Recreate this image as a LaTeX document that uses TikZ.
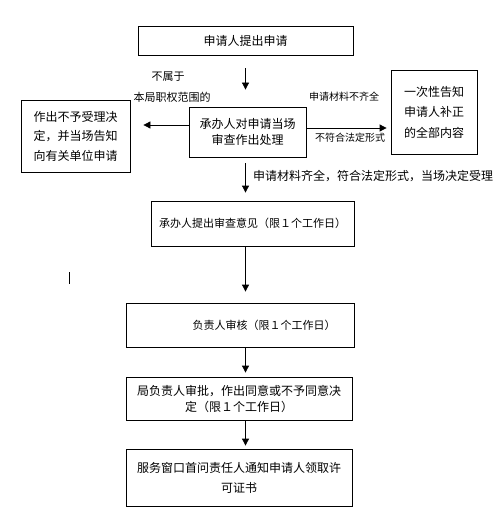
\documentclass[tikz,border=0pt]{standalone}
\usepackage{fontspec}
\setmainfont{Noto Sans CJK SC}
\usepackage{tikz}
\usetikzlibrary{arrows.meta}

\tikzset{
  box/.style={draw,rectangle,line width=0.8pt,inner sep=0pt,align=center,
    font=\fontsize{12}{16}\selectfont},
  arr/.style={line width=0.8pt,-{Triangle[length=7pt,width=7pt]}},
  small/.style={inner sep=0pt,font=\fontsize{10}{12}\selectfont}
}

\begin{document}
\begin{tikzpicture}[x=1pt,y=-1pt]
\useasboundingbox (0,0) rectangle (497,532);

\node [box,minimum width=215pt,minimum height=29pt] (apply) at(245.5,40.5){申请人提出申请};
\node [box,minimum width=117pt,minimum height=50pt] (check) at(247.5,132){承办人对申请当场\\审查作出处理};
\node [box,minimum width=109pt,minimum height=72pt,font=\fontsize{12}{19.5}\selectfont] (deny) at(75.5,136){作出不予受理决\\定，并当场告知\\向有关单位申请};
\node [box,minimum width=86pt,minimum height=84pt,font=\fontsize{12}{20.5}\selectfont] (notify) at(434,112){一次性告知\\申请人补正\\的全部内容};

\node [box,minimum width=203pt,minimum height=45pt,font=\fontsize{11}{14}\selectfont] (opinion) at(252.5,223.5){承办人提出审查意见（限１个工作日）};
\node [box,minimum width=228pt,minimum height=44pt,font=\fontsize{11}{14}\selectfont] (review) at(240,325){\hspace*{48pt}负责人审核（限１个工作日）};
\node [box,minimum width=226pt,minimum height=43pt] (approve) at(239,398.5){局负责人审批，作出同意或不予同意决\\定（限１个工作日）};
\node [box,minimum width=226pt,minimum height=57pt,font=\fontsize{12}{20}\selectfont] (issue) at(239,477.5){服务窗口首问责任人通知申请人领取许\\可证书};

% labels
\node [small,font=\fontsize{11}{13}\selectfont] (notours) at(168,77){不属于};
\node [small,font=\fontsize{11}{13}\selectfont] (scope) at(172,97){本局职权范围的};
\node [small] (incomplete) at(344,97){申请材料不齐全};
\node [small] (noform) at(350,138){不符合法定形式};
\node [small,anchor=west,font=\fontsize{12}{14}\selectfont] (accept) at(253,176){申请材料齐全，符合法定形式，当场决定受理};

\draw[arr,shorten <=13pt,shorten >=17pt](apply.south) -- (apply.south |- check.north);
\draw[arr,shorten >=13pt]([yshift=7pt]check.west) -- ([yshift=7pt]check.west -| deny.east);
\draw[arr,shorten >=4pt]([yshift=4pt]check.east) -- ([yshift=4pt]check.east -| notify.west);
\draw[arr,shorten <=6pt,shorten >=8pt](check.south -| apply.south) -- (opinion.north -| apply.south);
\draw[arr,shorten >=11pt](opinion.south -| apply.south) -- (review.north -| apply.south);
\draw[arr,shorten >=4pt](review.south -| apply.south) -- (approve.north -| apply.south);
\draw[arr,shorten >=3pt](approve.south -| apply.south) -- (issue.north -| apply.south);

\draw[line width=1.6pt] (69.5,272) -- (69.5,284);
\end{tikzpicture}
\end{document}
